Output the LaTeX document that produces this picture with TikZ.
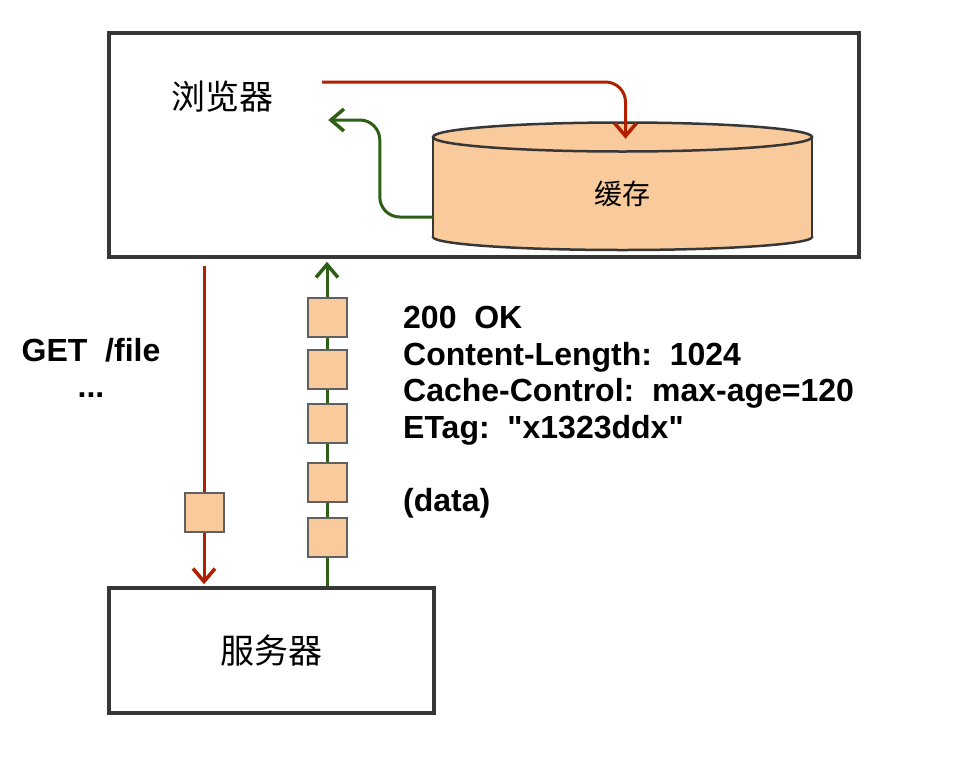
\documentclass[tikz,border=0pt]{standalone}
\usepackage{fontspec}
\setmainfont{Liberation Sans}[Ligatures=TeXOff]
\newfontfamily\cjk{Noto Sans CJK SC}
\usetikzlibrary{arrows.meta,backgrounds,calc}
\definecolor{reqred}{RGB}{178,32,2}
\definecolor{respgreen}{RGB}{45,95,20}
\definecolor{cachefill}{RGB}{249,202,155}
\definecolor{edgegray}{RGB}{55,55,55}

\begin{document}
\begin{tikzpicture}[
    x=1pt, y=-1pt,
    box/.style={rectangle, draw=edgegray, line width=3.5pt, inner sep=0pt},
    packet/.style={rectangle, draw=gray!75!black, fill=cachefill, line width=2pt,
      minimum size=39pt, inner sep=0pt},
    tag/.style={inner sep=0pt, font=\cjk\fontsize{34}{40}\selectfont},
    header/.style={inner sep=0pt, align=left, font=\bfseries\fontsize{32}{36.5}\selectfont},
    req_line/.style={-{Straight Barb[length=13pt,width=22pt,line width=3.5pt]}, draw=reqred, line width=3pt},
    resp_line/.style={-{Straight Barb[length=13pt,width=22pt,line width=3.5pt]}, draw=respgreen, line width=3pt}
  ]
  \useasboundingbox (0,0) rectangle (961,758);
  % browser side
  \node[box, minimum width=750pt, minimum height=224pt] (client) at (484,145) {};
  \node[tag] (browser) at (222,97) {浏览器};
  % cache cylinder
  \filldraw[fill=cachefill, draw=edgegray, line width=2.5pt]
    (622.5,237) ellipse [x radius=189.5pt, y radius=13pt];
  \fill[cachefill] (433,137) rectangle (812,237);
  \draw[edgegray, line width=2.5pt] (433,137) -- (433,237) (812,137) -- (812,237);
  \filldraw[fill=cachefill, draw=edgegray, line width=2.5pt]
    (622.5,137) ellipse [x radius=189.5pt, y radius=14.5pt];
  \node[tag, font=\cjk\fontsize{28}{32}\selectfont, minimum width=379pt, minimum height=113pt]
    (cache) at (622.5,193.5) {缓存};
  \draw[req_line, rounded corners=20pt]
    ([xshift=49pt, yshift=15pt]browser.east) -| ([xshift=3pt, yshift=-2pt]cache.north);
  \draw[resp_line, rounded corners=20pt]
    ([yshift=-23.5pt]cache.west) -- ++(-53,0) |- ([xshift=55pt, yshift=-23pt]browser.east);
  % server side
  \node[box, tag, minimum width=325pt, minimum height=125pt] (server) at (271.5,650.5) {服务器};
  % packets on the wire
  \node[packet] (req_pkt) at (204,512.5) {};
  \foreach \y [count=\i] in {317.5,369.5,423,482,537.5}
    \node[packet] (resp_\i) at (327,\y) {};
  \begin{scope}[on background layer]
    \draw[req_line, shorten <=7pt, shorten >=2pt] (client.south -| req_pkt) -- (server.north -| req_pkt);
    \draw[resp_line, shorten >=3pt] (server.north -| resp_1) -- (client.south -| resp_1);
  \end{scope}
  % messages
  \node[header, align=center, anchor=north] (request) at (91,338) {GET\ \ /file\\...};
  \node[header, anchor=north west] (response) at (403,306)
    {200\ \ OK\\Content-Length:\ \ 1024\\Cache-Control:\ \ max-age=120\\
     ETag:\ \ "x1323ddx"\\[36.5pt](data)};
\end{tikzpicture}
\end{document}
